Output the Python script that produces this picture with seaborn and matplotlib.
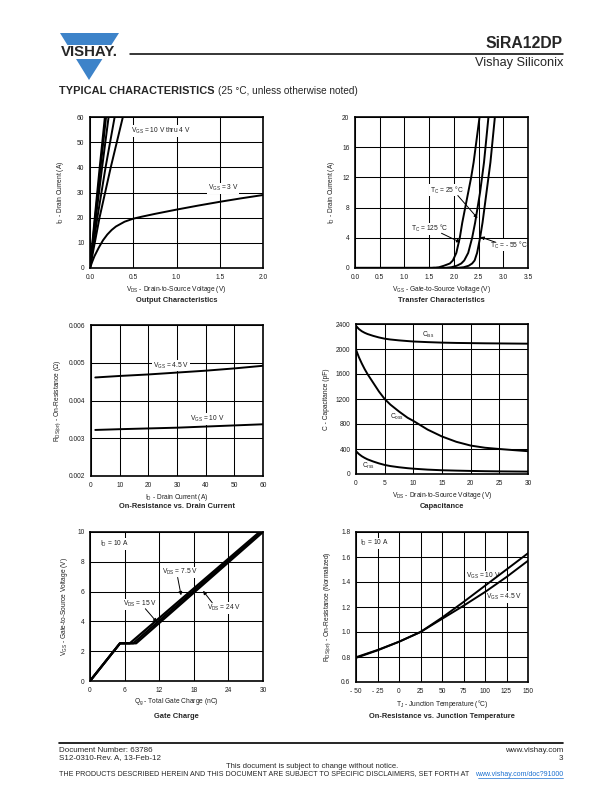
import matplotlib
matplotlib.use("Agg")
import matplotlib.pyplot as plt
import seaborn as sns
from matplotlib.patches import Polygon, Rectangle
from matplotlib.lines import Line2D

# ---- values ----
# Output characteristics (VGS = 10 V thru 4 V fan, and VGS = 3 V)
fan_id = [0, 20, 40, 60]
fan_vds_10v = [0, 0.055, 0.112, 0.172]
fan_vds_7v = [0, 0.060, 0.122, 0.186]
fan_vds_6v = [0, 0.068, 0.140, 0.215]
fan_vds_5v = [0, 0.085, 0.180, 0.285]
fan_vds_4v = [0, 0.110, 0.240, 0.380]
vgs3_vds = [0, 0.025, 0.05, 0.1, 0.15, 0.2, 0.25, 0.3, 0.4, 0.5, 0.6, 0.75, 1.0, 1.25, 1.5, 1.75, 2.0]
vgs3_id = [0, 2.4, 4.6, 8.0, 11.0, 13.3, 15.1, 16.5, 18.4, 19.6, 20.4, 21.5, 23.2, 24.8, 26.3, 27.7, 29.0]

# Transfer characteristics
tr_id = [0, 0.1, 0.3, 0.6, 1, 2, 4, 6, 8, 10, 12, 14, 16, 18, 20]
tr_vgs_125c = [1.55, 1.70, 1.80, 1.92, 1.98, 2.05, 2.12, 2.17, 2.23, 2.29, 2.35, 2.40, 2.44, 2.48, 2.52]
tr_vgs_25c = [1.80, 1.95, 2.06, 2.15, 2.21, 2.29, 2.37, 2.43, 2.48, 2.53, 2.57, 2.61, 2.64, 2.67, 2.70]
tr_vgs_m55c = [2.05, 2.20, 2.30, 2.37, 2.42, 2.47, 2.53, 2.58, 2.62, 2.66, 2.70, 2.74, 2.77, 2.80, 2.83]
tr_floor_vgs = [0, 1.6]
tr_floor_id = [0.08, 0.08]

# On-resistance vs drain current
rid_id = [1.5, 10, 20, 30, 40, 50, 60]
rid_vgs45 = [0.00461, 0.00465, 0.00469, 0.00474, 0.00479, 0.00485, 0.00492]
rid_vgs10 = [0.00322, 0.00324, 0.00326, 0.00328, 0.00331, 0.00334, 0.00337]

# Capacitance
cap_vds = [0, 0.5, 1, 1.5, 2, 3, 4, 5, 6, 7.5, 9, 10, 12.5, 15, 17.5, 20, 22.5, 25, 27.5, 30]
cap_ciss = [2370, 2320, 2285, 2260, 2240, 2210, 2185, 2165, 2152, 2138, 2127, 2120, 2110, 2102,
            2097, 2094, 2091, 2089, 2087, 2085]
cap_coss = [1990, 1870, 1770, 1680, 1600, 1460, 1320, 1200, 1110, 1000, 900, 850, 710, 600,
            515, 455, 420, 400, 382, 365]
cap_crss = [365, 320, 285, 258, 235, 200, 170, 145, 127, 108, 93, 85, 70, 60, 54, 49, 45, 42, 40, 38]

# Gate charge
qg_vds75 = [0, 5.2, 6.9, 29.4]
qg_vds15 = [0, 5.2, 7.5, 29.7]
qg_vds24 = [0, 5.2, 8.0, 30.0]
qg_vgs = [0, 2.53, 2.53, 10]

# On-resistance vs junction temperature
tj = [-50, -25, 0, 25, 50, 75, 100, 125, 150]
rt_vgs10 = [0.793, 0.853, 0.922, 1.0, 1.115, 1.24, 1.37, 1.50, 1.63]
rt_vgs45 = [0.798, 0.856, 0.922, 1.0, 1.105, 1.21, 1.32, 1.44, 1.57]

W, H = 612, 792
sns.set_theme(style="white")
plt.rcParams["font.family"] = ["Liberation Sans", "DejaVu Sans"]
plt.rcParams["mathtext.fontset"] = "custom"
plt.rcParams["mathtext.rm"] = "Liberation Sans"
plt.rcParams["mathtext.it"] = "Liberation Sans:italic"
plt.rcParams["mathtext.bf"] = "Liberation Sans:bold"

fig = plt.figure(figsize=(W / 100, H / 100), dpi=100)
fig.patch.set_facecolor("white")
INK = "#1e1e1e"


def ftext(x, y, s, **kw):
    return fig.text(x / W, 1 - y / H, s, **kw)


def hline(x0, x1, y, lw=1.0, color="black"):
    fig.add_artist(Line2D([x0 / W, x1 / W], [1 - y / H, 1 - y / H],
                          transform=fig.transFigure, lw=lw, color=color))


def make_axes(left, top, right, bottom):
    ax = fig.add_axes([left / W, 1 - bottom / H, (right - left) / W, (bottom - top) / H])
    ax._px = (left, top, right, bottom)
    return ax


def curve(ax, x, y, lw=1.4):
    sns.lineplot(x=x, y=y, ax=ax, color="black", lw=lw, estimator=None,
                 sort=False, legend=False, zorder=3)


def style(ax, xlim, ylim, xticks, yticks, xlabels, ylabels, xlabel, ylabel, ylab_x):
    ax.set_xlim(*xlim)
    ax.set_ylim(*ylim)
    ax.set_xticks(xticks)
    ax.set_yticks(yticks)
    ax.set_xticklabels(xlabels)
    ax.set_yticklabels(ylabels)
    ax.grid(True, color="black", lw=0.75)
    ax.set_axisbelow(True)
    ax.tick_params(length=0, labelsize=4.8, colors=INK)
    ax.tick_params(axis="x", pad=4)
    ax.tick_params(axis="y", pad=4)
    for sp in ax.spines.values():
        sp.set_visible(True)
        sp.set_color("black")
        sp.set_linewidth(1.2)
    ax.set_xlabel(xlabel, fontsize=4.8, labelpad=2.2, color=INK)
    ax.set_ylabel(ylabel, fontsize=4.8, color=INK)
    left, top, right, bottom = ax._px
    ax.yaxis.set_label_coords((ylab_x - left) / (right - left), 0.5)


def note(ax, x, y, s, **kw):
    ax.text(x, y, s, fontsize=4.8, color=INK, va="center", zorder=2.5,
            bbox=dict(fc="white", ec="none", pad=0.4), **kw)


def arrow(ax, tail, tip):
    ax.annotate("", xy=tip, xytext=tail, zorder=4,
                arrowprops=dict(arrowstyle="-|>", color="black", lw=0.7,
                                mutation_scale=5, shrinkA=0, shrinkB=0))


# ---- header ----
logo_blue = "#3d83c9"
fig.add_artist(Polygon([[60 / W, 1 - 33 / H], [119 / W, 1 - 33 / H], [89 / W, 1 - 80 / H]],
                       closed=True, transform=fig.transFigure, color=logo_blue, lw=0))
fig.add_artist(Rectangle((55 / W, 1 - 58.5 / H), 70 / W, 13.5 / H,
                         transform=fig.transFigure, color="white", lw=0))
ftext(89, 52, "VISHAY.", fontsize=10.8, fontweight="bold", ha="center", va="center")
hline(130, 563, 54, lw=1.1)
ftext(563, 44, "SiRA12DP", fontsize=11.3, fontweight="bold", ha="right", va="center")
ftext(563, 63, "Vishay Siliconix", fontsize=9.2, ha="right", va="center")
ftext(59, 91, "TYPICAL CHARACTERISTICS", fontsize=7.9, fontweight="heavy",
      ha="left", va="center")
ftext(218, 91, "(25 °C, unless otherwise noted)", fontsize=7.2, ha="left", va="center")

# ---- Output characteristics ----
ax1 = make_axes(90, 117, 263, 268)
for v in [fan_vds_10v, fan_vds_7v, fan_vds_6v, fan_vds_5v, fan_vds_4v]:
    curve(ax1, v, fan_id)
curve(ax1, vgs3_vds, vgs3_id)
style(ax1, (0, 2), (0, 60), [0, 0.5, 1.0, 1.5, 2.0], range(0, 61, 10),
      ["0.0", "0.5", "1.0", "1.5", "2.0"], [str(v) for v in range(0, 61, 10)],
      r"V$_{\rm DS}$ - Drain-to-Source Voltage (V)", r"I$_{\rm D}$ - Drain Current (A)", 66)
note(ax1, 0.47, 54.4, r"V$_{\rm GS}$ = 10 V thru 4 V", ha="left")
note(ax1, 1.36, 31.7, r"V$_{\rm GS}$ = 3 V", ha="left")
ftext(176.5, 301, "Output Characteristics", fontsize=5.4, fontweight="bold", ha="center", va="center")

# ---- Transfer characteristics ----
ax2 = make_axes(355, 117, 528, 268)
curve(ax2, tr_floor_vgs, tr_floor_id, lw=1.0)
for v in [tr_vgs_125c, tr_vgs_25c, tr_vgs_m55c]:
    curve(ax2, [0] + v, [0] + tr_id)
style(ax2, (0, 3.5), (0, 20), [0, 0.5, 1.0, 1.5, 2.0, 2.5, 3.0, 3.5], range(0, 21, 4),
      ["0.0", "0.5", "1.0", "1.5", "2.0", "2.5", "3.0", "3.5"], [str(v) for v in range(0, 21, 4)],
      r"V$_{\rm GS}$ - Gate-to-Source Voltage (V)", r"I$_{\rm D}$ - Drain Current (A)", 337)
note(ax2, 1.51, 10.3, r"T$_{\rm C}$ = 25 °C", ha="left")
arrow(ax2, (2.08, 9.6), (2.48, 6.6))
note(ax2, 1.14, 5.2, r"T$_{\rm C}$ = 125 °C", ha="left")
arrow(ax2, (1.75, 4.6), (2.13, 3.4))
note(ax2, 2.73, 3.0, r"T$_{\rm C}$ = - 55 °C", ha="left")
arrow(ax2, (2.85, 3.4), (2.54, 4.1))
ftext(441.5, 301, "Transfer Characteristics", fontsize=5.4, fontweight="bold", ha="center", va="center")

# ---- On-resistance vs drain current ----
ax3 = make_axes(91, 325, 263, 476)
curve(ax3, rid_id, rid_vgs45)
curve(ax3, rid_id, rid_vgs10)
style(ax3, (0, 60), (0.002, 0.006), range(0, 61, 10), [0.002, 0.003, 0.004, 0.005, 0.006],
      [str(v) for v in range(0, 61, 10)], ["0.002", "0.003", "0.004", "0.005", "0.006"],
      r"I$_{\rm D}$ - Drain Current (A)", r"R$_{\rm DS(on)}$ - On-Resistance ($\Omega$)", 63)
note(ax3, 21.5, 0.00492, r"V$_{\rm GS}$ = 4.5 V", ha="left")
note(ax3, 34.4, 0.00351, r"V$_{\rm GS}$ = 10 V", ha="left")
ftext(177, 507, "On-Resistance vs. Drain Current", fontsize=5.4, fontweight="bold", ha="center", va="center")

# ---- Capacitance ----
ax4 = make_axes(356, 324, 528, 474)
curve(ax4, cap_vds, cap_ciss)
curve(ax4, cap_vds, cap_coss)
curve(ax4, cap_vds, cap_crss)
style(ax4, (0, 30), (0, 2400), range(0, 31, 5), range(0, 2401, 400),
      [str(v) for v in range(0, 31, 5)], [str(v) for v in range(0, 2401, 400)],
      r"V$_{\rm DS}$ - Drain-to-Source Voltage (V)", "C - Capacitance (pF)", 330)
note(ax4, 11.5, 2225, r"C$_{\rm iss}$", ha="left")
note(ax4, 6.0, 920, r"C$_{\rm oss}$", ha="left")
note(ax4, 1.0, 135, r"C$_{\rm rss}$", ha="left")
ftext(442, 507, "Capacitance", fontsize=5.4, fontweight="bold", ha="center", va="center")

# ---- Gate charge ----
ax5 = make_axes(90, 532, 263, 681)
curve(ax5, qg_vds75, qg_vgs, lw=1.6)
curve(ax5, qg_vds15, qg_vgs, lw=1.6)
curve(ax5, qg_vds24, qg_vgs, lw=1.6)
style(ax5, (0, 30), (0, 10), range(0, 31, 6), range(0, 11, 2),
      [str(v) for v in range(0, 31, 6)], [str(v) for v in range(0, 11, 2)],
      r"Q$_{\rm g}$ - Total Gate Charge (nC)", r"V$_{\rm GS}$ - Gate-to-Source Voltage (V)", 70)
note(ax5, 1.8, 9.2, r"I$_{\rm D}$ = 10 A", ha="left")
note(ax5, 12.4, 7.3, r"V$_{\rm DS}$ = 7.5 V", ha="left")
arrow(ax5, (15.2, 6.95), (15.8, 5.75))
note(ax5, 5.7, 5.15, r"V$_{\rm DS}$ = 15 V", ha="left")
arrow(ax5, (9.6, 4.85), (11.6, 3.95))
note(ax5, 20.3, 4.9, r"V$_{\rm DS}$ = 24 V", ha="left")
arrow(ax5, (21.2, 5.25), (19.6, 6.05))
ftext(176.5, 716, "Gate Charge", fontsize=5.4, fontweight="bold", ha="center", va="center")

# ---- On-resistance vs junction temperature ----
ax6 = make_axes(356, 532, 528, 682)
curve(ax6, tj, rt_vgs10)
curve(ax6, tj, rt_vgs45)
style(ax6, (-50, 150), (0.6, 1.8), range(-50, 151, 25), [0.6, 0.8, 1.0, 1.2, 1.4, 1.6, 1.8],
      ["- 50", "- 25", "0", "25", "50", "75", "100", "125", "150"],
      ["0.6", "0.8", "1.0", "1.2", "1.4", "1.6", "1.8"],
      r"T$_{\rm J}$ - Junction Temperature (°C)", r"R$_{\rm DS(on)}$ - On-Resistance (Normalized)", 333)
note(ax6, -45, 1.71, r"I$_{\rm D}$ = 10 A", ha="left")
note(ax6, 78, 1.445, r"V$_{\rm GS}$ = 10 V", ha="left")
note(ax6, 101.5, 1.28, r"V$_{\rm GS}$ = 4.5 V", ha="left")
ftext(442, 716, "On-Resistance vs. Junction Temperature", fontsize=5.4, fontweight="bold",
      ha="center", va="center")

# ---- footer ----
hline(59, 563, 743, lw=1.2)
ftext(59, 750, "Document Number: 63786", fontsize=5.8, ha="left", va="center")
ftext(59, 758, "S12-0310-Rev. A, 13-Feb-12", fontsize=5.8, ha="left", va="center")
ftext(563, 750, "www.vishay.com", fontsize=5.8, ha="right", va="center")
ftext(563, 758, "3", fontsize=5.8, ha="right", va="center")
ftext(312, 766, "This document is subject to change without notice.", fontsize=5.5,
      ha="center", va="center")
ftext(59, 774, "THE PRODUCTS DESCRIBED HEREIN AND THIS DOCUMENT ARE SUBJECT TO SPECIFIC "
      "DISCLAIMERS, SET FORTH AT", fontsize=5.15, ha="left", va="center")
ftext(563, 774, "www.vishay.com/doc?91000", fontsize=5.05, ha="right", va="center", color="#1a6fd0")
hline(478, 563, 777.5, lw=0.5, color="#1a6fd0")

fig.savefig("out.png", dpi=100, facecolor="white")
